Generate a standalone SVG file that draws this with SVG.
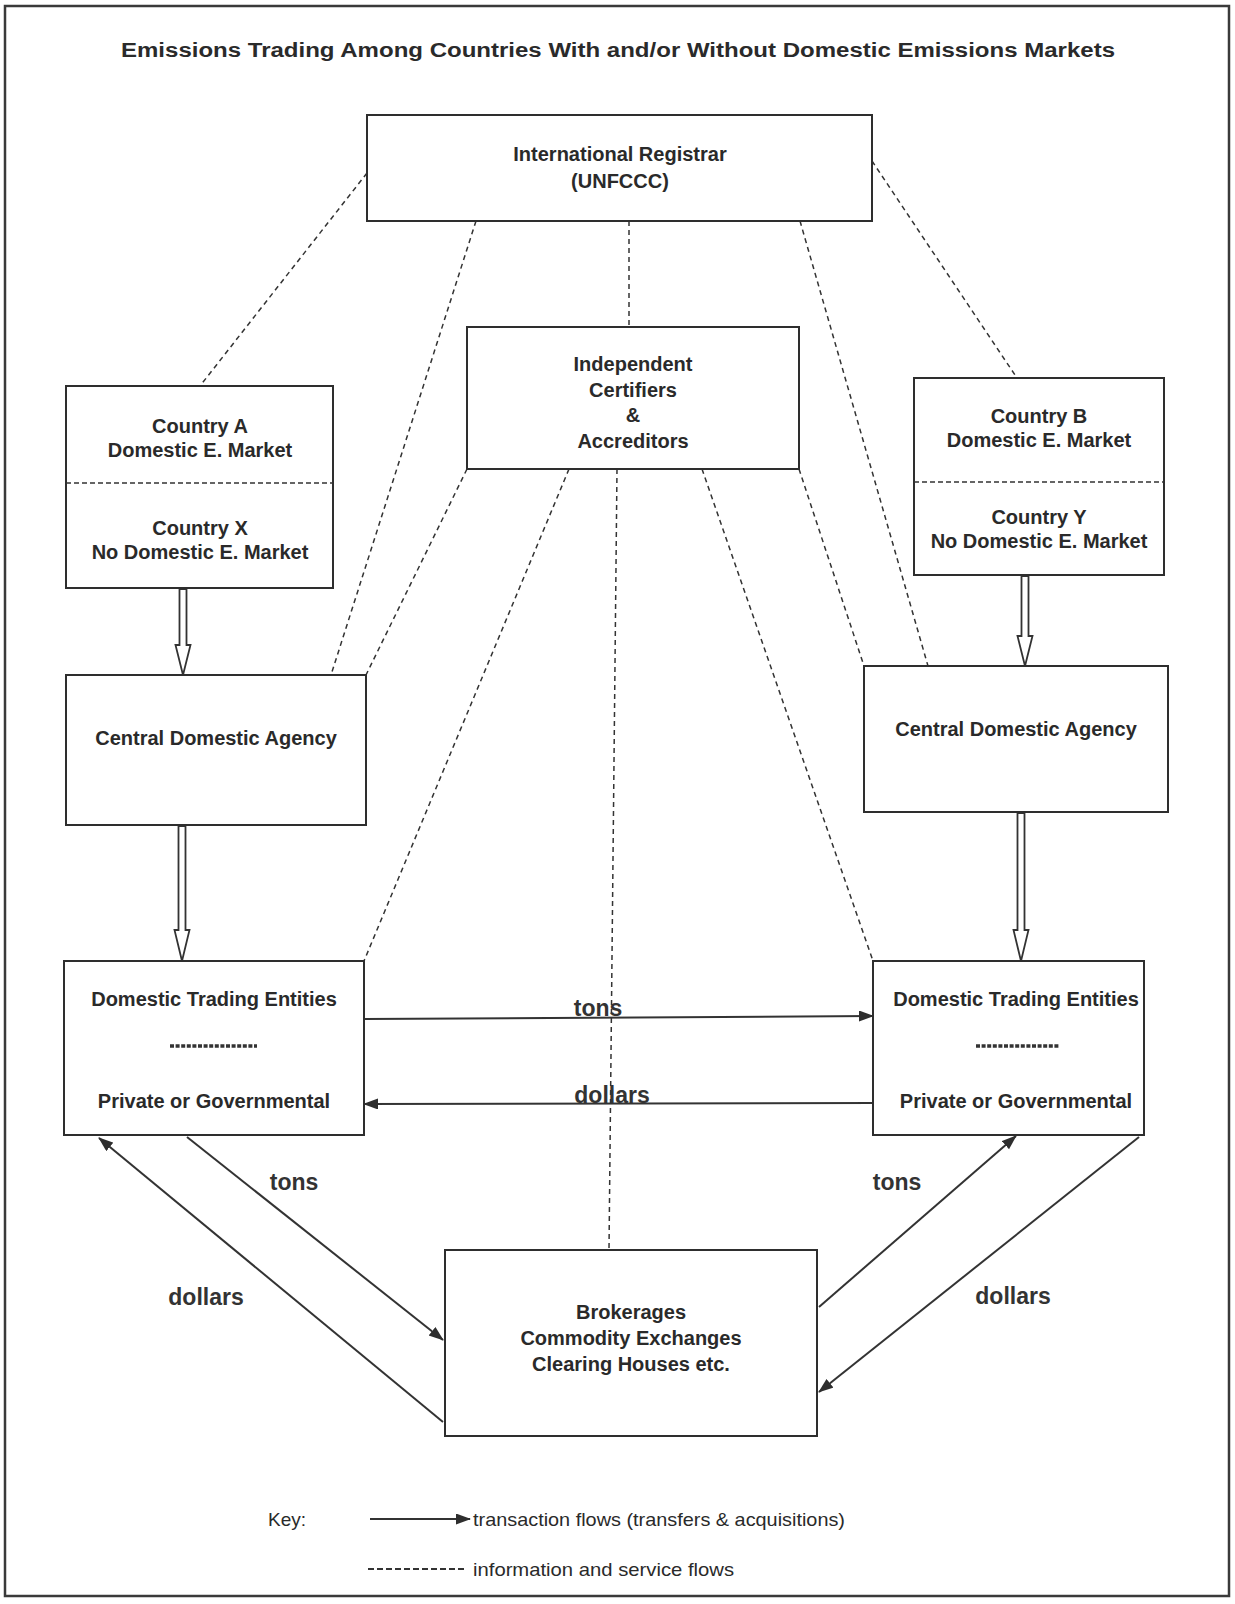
<svg xmlns="http://www.w3.org/2000/svg" width="1235" height="1604" viewBox="0 0 1235 1604">
  <style>
    .box { fill: #ffffff; stroke: #2e2e2e; stroke-width: 2; }
    .t { font-family: "Liberation Sans", Arial, sans-serif; font-weight: bold; font-size: 20px; fill: #2a2a2a; text-anchor: middle; }
    .lbl { font-family: "Liberation Sans", Arial, sans-serif; font-weight: bold; font-size: 23px; fill: #333333; text-anchor: middle; }
    .key { font-family: "Liberation Sans", Arial, sans-serif; font-size: 19px; fill: #2a2a2a; }
    .info { fill: none; stroke: #333333; stroke-width: 1.5; stroke-dasharray: 5 4; }
    .flow { fill: none; stroke: #333333; stroke-width: 2; marker-end: url(#head); }
    .hollow { fill: #ffffff; stroke: #333333; stroke-width: 1.8; stroke-linejoin: miter; }
    .sep { stroke: #333333; stroke-width: 3.5; stroke-dasharray: 4 1.6; }
  </style>
  <defs>
    <marker id="head" markerUnits="userSpaceOnUse" markerWidth="16" markerHeight="12" refX="14" refY="5.5" orient="auto">
      <path d="M0,0 L15,5.5 L0,11 Z" fill="#2e2e2e"/>
    </marker>
  </defs>

  <rect x="0" y="0" width="1235" height="1604" fill="#ffffff"/>
  <!-- page frame -->
  <rect x="5" y="6" width="1224" height="1590" fill="none" stroke="#3a3a3a" stroke-width="2.5"/>

  <text class="t" x="618" y="57" font-size="23" textLength="994" lengthAdjust="spacingAndGlyphs">Emissions Trading Among Countries With and/or Without Domestic Emissions Markets</text>

  <!-- information and service flows -->
  <g id="connectors">
    <line class="info" x1="367" y1="173" x2="200" y2="386"/>
    <line class="info" x1="476" y1="221" x2="331" y2="675"/>
    <line class="info" x1="629" y1="221" x2="629" y2="327"/>
    <line class="info" x1="800" y1="221" x2="928" y2="666"/>
    <line class="info" x1="872" y1="161" x2="1017" y2="378"/>
    <line class="info" x1="467" y1="469" x2="366" y2="675"/>
    <line class="info" x1="569" y1="469" x2="364" y2="961"/>
    <line class="info" x1="617" y1="469" x2="609" y2="1250"/>
    <line class="info" x1="702" y1="469" x2="873" y2="961"/>
    <line class="info" x1="799" y1="469" x2="864" y2="666"/>

    <!-- transaction flows -->
    <line class="flow" x1="364" y1="1019" x2="873" y2="1016"/>
    <line class="flow" x1="872" y1="1103" x2="364" y2="1104"/>
    <line class="flow" x1="187" y1="1137" x2="443" y2="1340"/>
    <line class="flow" x1="443" y1="1422" x2="99" y2="1138"/>
    <line class="flow" x1="819" y1="1307" x2="1016" y2="1136"/>
    <line class="flow" x1="1139" y1="1137" x2="819" y2="1392"/>

    <!-- hollow transfer arrows -->
    <path class="hollow" d="M179.5,589 L179.5,645 L175.5,645 L183,675 L190.5,645 L186.5,645 L186.5,589 Z"/>
    <path class="hollow" d="M178.5,826 L178.5,930 L174.5,930 L182,961 L189.5,930 L185.5,930 L185.5,826 Z"/>
    <path class="hollow" d="M1021.5,576 L1021.5,636 L1017.5,636 L1025,666 L1032.5,636 L1028.5,636 L1028.5,576 Z"/>
    <path class="hollow" d="M1017.5,813 L1017.5,930 L1013.5,930 L1021,961 L1028.5,930 L1024.5,930 L1024.5,813 Z"/>

    <text class="lbl" x="598" y="1016">tons</text>
    <text class="lbl" x="612" y="1103">dollars</text>
    <text class="lbl" x="294" y="1190">tons</text>
    <text class="lbl" x="206" y="1305">dollars</text>
    <text class="lbl" x="897" y="1190">tons</text>
    <text class="lbl" x="1013" y="1304">dollars</text>
  </g>

  <g id="registrar">
    <rect class="box" x="367" y="115" width="505" height="106"/>
    <text class="t" x="620" y="161">International Registrar</text>
    <text class="t" x="620" y="188">(UNFCCC)</text>
  </g>

  <g id="certifiers">
    <rect class="box" x="467" y="327" width="332" height="142"/>
    <text class="t" x="633" y="371">Independent</text>
    <text class="t" x="633" y="397">Certifiers</text>
    <text class="t" x="633" y="422">&amp;</text>
    <text class="t" x="633" y="448">Accreditors</text>
  </g>

  <g id="country-a">
    <rect class="box" x="66" y="386" width="267" height="202"/>
    <line x1="66" y1="483" x2="333" y2="483" stroke="#333" stroke-width="1.5" stroke-dasharray="5 3"/>
    <text class="t" x="200" y="433">Country A</text>
    <text class="t" x="200" y="457">Domestic E. Market</text>
    <text class="t" x="200" y="535">Country X</text>
    <text class="t" x="200" y="559">No Domestic E. Market</text>
  </g>

  <g id="country-b">
    <rect class="box" x="914" y="378" width="250" height="197"/>
    <line x1="914" y1="482" x2="1164" y2="482" stroke="#333" stroke-width="1.5" stroke-dasharray="5 3"/>
    <text class="t" x="1039" y="423">Country B</text>
    <text class="t" x="1039" y="447">Domestic E. Market</text>
    <text class="t" x="1039" y="524">Country Y</text>
    <text class="t" x="1039" y="548">No Domestic E. Market</text>
  </g>

  <g id="agency-left">
    <rect class="box" x="66" y="675" width="300" height="150"/>
    <text class="t" x="216" y="745">Central Domestic Agency</text>
  </g>

  <g id="agency-right">
    <rect class="box" x="864" y="666" width="304" height="146"/>
    <text class="t" x="1016" y="736">Central Domestic Agency</text>
  </g>

  <g id="traders-left">
    <rect class="box" x="64" y="961" width="300" height="174"/>
    <text class="t" x="214" y="1006">Domestic Trading Entities</text>
    <line class="sep" x1="170" y1="1046" x2="257" y2="1046"/>
    <text class="t" x="214" y="1108">Private or Governmental</text>
  </g>

  <g id="traders-right">
    <rect class="box" x="873" y="961" width="271" height="174"/>
    <text class="t" x="1016" y="1006">Domestic Trading Entities</text>
    <line class="sep" x1="976" y1="1046" x2="1059" y2="1046"/>
    <text class="t" x="1016" y="1108">Private or Governmental</text>
  </g>

  <g id="brokerages">
    <rect class="box" x="445" y="1250" width="372" height="186"/>
    <text class="t" x="631" y="1319">Brokerages</text>
    <text class="t" x="631" y="1345">Commodity Exchanges</text>
    <text class="t" x="631" y="1371">Clearing Houses etc.</text>
  </g>

  <g id="key">
    <text class="key" x="268" y="1526">Key:</text>
    <line class="flow" x1="370" y1="1519" x2="470" y2="1519"/>
    <text class="key" x="473" y="1526" textLength="372" lengthAdjust="spacingAndGlyphs">transaction flows (transfers &amp; acquisitions)</text>
    <line class="info" x1="368" y1="1569" x2="467" y2="1569" style="stroke-dasharray: 6 3; stroke-width: 2"/>
    <text class="key" x="473" y="1576" textLength="261" lengthAdjust="spacingAndGlyphs">information and service flows</text>
  </g>
</svg>
